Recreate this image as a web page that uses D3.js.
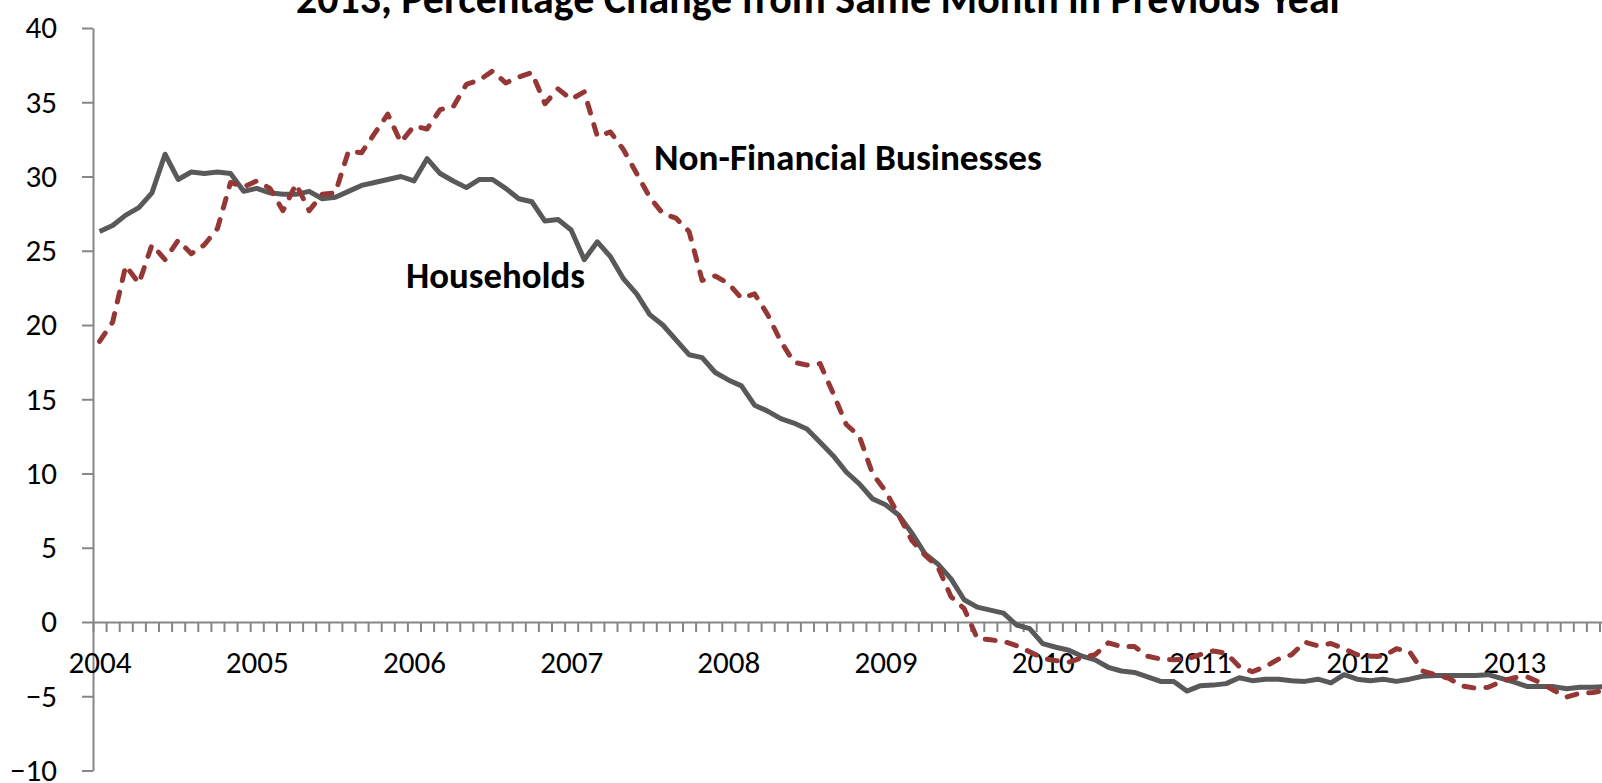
<!DOCTYPE html>
<html>
<head>
<meta charset="utf-8">
<script src="https://cdn.jsdelivr.net/npm/d3@7"></script>
<style>
  html, body { margin: 0; padding: 0; background: #fff; overflow: hidden; }
  svg { display: block; }
  .lbl { font-family: Carlito, Lato, "Open Sans", sans-serif; }
</style>
</head>
<body>
<svg id="chart" width="1602" height="783"></svg>
<script>
// ---- Data (monthly, Jan 2004 onward; % change from same month previous year) ----
const years = ["2004","2005","2006","2007","2008","2009","2010","2011","2012","2013"];
const monthsShown = 118; // categories on the axis (chart continues past right edge)

const households = [
  26.3, 26.7, 27.4, 27.9, 28.9, 31.5, 29.8, 30.3, 30.2, 30.3, 30.2, 29.0,
  29.2, 28.9, 28.8, 28.8, 29.0, 28.5, 28.6, 29.0, 29.4, 29.6, 29.8, 30.0,
  29.7, 31.2, 30.2, 29.7, 29.25, 29.8, 29.8, 29.2, 28.5, 28.3, 27.0, 27.1,
  26.4, 24.4, 25.6, 24.6, 23.1, 22.1, 20.7, 20.0, 19.0, 18.0, 17.8, 16.8,
  16.3, 15.9, 14.6, 14.2, 13.7, 13.4, 13.0, 12.1, 11.2, 10.1, 9.3, 8.3,
  7.9, 7.2, 6.0, 4.6, 3.9, 2.9, 1.5, 1.0, 0.8, 0.6, -0.2, -0.45,
  -1.45, -1.7, -1.9, -2.3, -2.55, -3.05, -3.3, -3.4, -3.7, -4.0, -4.0, -4.65,
  -4.3, -4.25, -4.15, -3.75, -3.95, -3.85, -3.85, -3.95, -4.0, -3.85, -4.1, -3.55,
  -3.85, -3.95, -3.85, -4.0, -3.85, -3.65, -3.6, -3.6, -3.6, -3.6, -3.55, -3.8,
  -4.05, -4.35, -4.35, -4.35, -4.5, -4.4, -4.4, -4.35
];

const nonFinancial = [
  18.9, 20.2, 24.0, 22.8, 25.4, 24.4, 25.7, 24.8, 25.4, 26.5, 29.6, 29.3,
  29.7, 29.2, 27.7, 29.5, 27.7, 28.8, 28.9, 31.7, 31.6, 32.9, 34.2, 32.3,
  33.4, 33.2, 34.5, 34.7, 36.2, 36.5, 37.1, 36.3, 36.7, 37.0, 34.9, 35.9,
  35.2, 35.7, 32.7, 33.0, 31.8, 30.2, 28.6, 27.5, 27.2, 26.3, 23.0, 23.3,
  22.8, 21.8, 22.1, 20.7, 18.9, 17.5, 17.3, 17.4, 15.4, 13.3, 12.5, 10.0,
  8.8, 7.2, 5.5, 4.5, 3.7, 1.7, 0.9, -1.1, -1.2, -1.3, -1.6, -2.0,
  -2.45, -2.6, -2.7, -2.4, -2.2, -1.4, -1.65, -1.65, -2.3, -2.5, -2.55, -2.5,
  -2.2, -1.95, -2.1, -3.0, -3.35, -3.0, -2.5, -2.2, -1.35, -1.6, -1.45, -1.8,
  -2.2, -2.3, -2.3, -1.8, -2.0, -3.3, -3.55, -3.8, -4.3, -4.45, -4.4, -4.0,
  -3.75, -3.7, -4.1, -4.6, -5.05, -4.8, -4.75, -4.6
];

const yTicks = [-10, -5, 0, 5, 10, 15, 20, 25, 30, 35, 40];
const titleText = "2013, Percentage Change from Same Month in Previous Year";
const seriesLabels = ["Households", "Non-Financial Businesses"];

// ---- Layout ----
const svg = d3.select("#chart");
const plotLeft = 93, monthWidth = 13.1;
const x = d3.scaleLinear().domain([0, monthsShown]).range([plotLeft, plotLeft + monthsShown * monthWidth]);
const y = d3.scaleLinear().domain([-10, 40]).range([770.5, 28]);
const axisColor = "#868686";
const FONT = 'Carlito, Lato, "Open Sans", sans-serif';

// fit helper: font-size so that text spans target width
function fit(sel, target, base) {
  sel.style("font-size", base + "px");
  const w = sel.node().getComputedTextLength();
  sel.style("font-size", (base * target / w) + "px");
}

// measure tick font size from "2004" ~63px wide
const probe = svg.append("text").attr("class", "lbl").text("2004");
fit(probe, 63, 30);
const tickFont = probe.style("font-size");
probe.remove();

// ---- Y axis ----
const yAxis = d3.axisLeft(y).tickValues(yTicks).tickSize(11).tickSizeOuter(0).tickPadding(25).tickFormat(d3.format("d"));
const gy = svg.append("g").attr("transform", `translate(${plotLeft},0)`).call(yAxis);
gy.select(".domain").attr("stroke", axisColor).attr("stroke-width", 2);
gy.selectAll(".tick line").attr("stroke", axisColor).attr("stroke-width", 2);
gy.selectAll(".tick text").attr("class", "lbl").style("font-family", FONT).style("font-size", tickFont).attr("fill", "#000");

// ---- X axis (at y = 0): monthly boundary ticks ----
const xAxisTicks = d3.axisBottom(x).tickValues(d3.range(0, monthsShown + 1)).tickSize(10).tickSizeOuter(0).tickFormat("");
const gx = svg.append("g").attr("transform", `translate(0,${y(0)})`).call(xAxisTicks);
gx.select(".domain").attr("stroke", axisColor).attr("stroke-width", 2);
gx.selectAll(".tick line").attr("stroke", axisColor).attr("stroke-width", 2);

// year labels centered on January category
const yearPos = years.map((yr, k) => k * 12 + 0.5);
const xAxisLabels = d3.axisBottom(x).tickValues(yearPos).tickSize(0).tickPadding(0)
  .tickFormat((d, i) => years[i]);
const gxl = svg.append("g").attr("transform", `translate(0,${y(0)})`).call(xAxisLabels);
gxl.select(".domain").remove();
gxl.selectAll(".tick text").attr("class", "lbl").style("font-family", FONT).style("font-size", tickFont)
  .attr("fill", "#000").attr("dy", null).attr("y", 51);

// ---- Lines ----
const line = d3.line().x((d, i) => x(i + 0.5)).y(d => y(d));

svg.append("path").datum(households)
  .attr("fill", "none").attr("stroke", "#595959").attr("stroke-width", 5)
  .attr("stroke-linejoin", "round").attr("d", line);

svg.append("path").datum(nonFinancial)
  .attr("fill", "none").attr("stroke", "#953735").attr("stroke-width", 5)
  .attr("stroke-linecap", "round").attr("stroke-linejoin", "round")
  .attr("stroke-dasharray", "10,12").attr("d", line);

// ---- Series labels ----
const hl = svg.append("text").attr("class", "lbl").attr("x", 406).attr("y", 288)
  .style("font-family", FONT).style("font-weight", "bold").attr("fill", "#000").text(seriesLabels[0]);
fit(hl, 179, 36);
const nl = svg.append("text").attr("class", "lbl").attr("x", 654).attr("y", 170)
  .style("font-family", FONT).style("font-weight", "bold").attr("fill", "#000").text(seriesLabels[1]);
fit(nl, 388, 36);

// ---- Title (upper part clipped by the frame) ----
const tt = svg.append("text").attr("class", "lbl").attr("x", 296).attr("y", 13)
  .style("font-family", FONT).style("font-weight", "bold").attr("fill", "#000").text(titleText);
fit(tt, 1049, 40);
</script>
</body>
</html>
